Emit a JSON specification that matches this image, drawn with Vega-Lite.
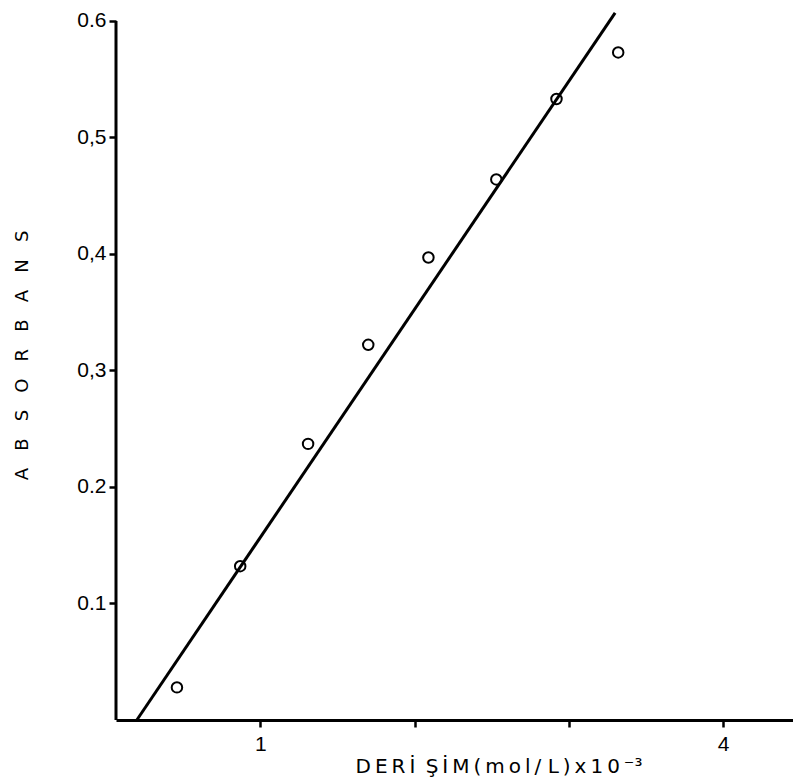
{
  "$schema": "https://vega.github.io/schema/vega-lite/v6.json",
  "width": 677,
  "height": 710,
  "autosize": {"type": "none"},
  "padding": {"left": 116, "top": 10, "right": 0, "bottom": 63},
  "background": "white",
  "config": {
    "view": {"stroke": null},
    "font": "Liberation Sans"
  },
  "datasets": {
    "points": [
      {"c": 0.46, "a": 0.028},
      {"c": 0.87, "a": 0.132},
      {"c": 1.31, "a": 0.237},
      {"c": 1.70, "a": 0.322},
      {"c": 2.09, "a": 0.397},
      {"c": 2.53, "a": 0.464},
      {"c": 2.92, "a": 0.533},
      {"c": 3.32, "a": 0.573}
    ],
    "fit": [
      {"c": 0.20, "a": 0.0},
      {"c": 3.30, "a": 0.607}
    ],
    "yaxis": [
      {"c": 0.065, "a0": 0, "a1": 0.6}
    ]
  },
  "layer": [
    {
      "data": {"name": "yaxis"},
      "mark": {"type": "rule", "color": "black", "strokeWidth": 3},
      "encoding": {
        "x": {"field": "c", "type": "quantitative", "scale": {"domain": [0.065, 4.453], "nice": false, "zero": false},
          "axis": {
            "values": [1, 2, 3, 4],
            "labelExpr": "datum.value == 1 || datum.value == 4 ? format(datum.value, 'd') : ''",
            "grid": false,
            "domainColor": "black", "domainWidth": 3,
            "tickColor": "black", "tickWidth": 2.5, "tickSize": 7,
            "labelColor": "black", "labelFontSize": 21, "labelPadding": 6,
            "labelFont": "Liberation Sans",
            "title": "D\u2009E\u2009R\u2009İ\u00a0\u2009Ş\u2009İ\u2009M\u2009(\u2009m\u2009o\u2009l\u2009/\u00a0L\u2009)\u2009x\u20091\u20090\u2009⁻³",
            "titleFont": "DejaVu Sans",
            "titleFontSize": 20, "titleFontWeight": "normal", "titleColor": "black",
            "titleAnchor": "start", "titleAlign": "left", "titleX": 239, "titleY": 52, "titleBaseline": "alphabetic"
          }
        },
        "y": {"field": "a0", "type": "quantitative", "scale": {"domain": [0, 0.6094], "nice": false, "zero": false},
          "axis": {
            "values": [0.1, 0.2, 0.3, 0.4, 0.5, 0.6],
            "labelExpr": "datum.value > 0.25 && datum.value < 0.55 ? replace(format(datum.value, '.1f'), '.', ',') : format(datum.value, '.1f')",
            "grid": false,
            "domain": false,
            "tickColor": "black", "tickWidth": 2.5, "tickSize": 7,
            "labelColor": "black", "labelFontSize": 21, "labelPadding": 3,
            "labelFont": "Liberation Sans",
            "title": "A\u00a0\u00a0\u00a0B\u00a0\u00a0\u00a0S\u00a0\u00a0\u00a0O\u00a0\u00a0\u00a0R\u00a0\u00a0\u00a0B\u00a0\u00a0\u00a0A\u00a0\u00a0\u00a0N\u00a0\u00a0\u00a0S",
            "titleFont": "DejaVu Sans",
            "titleFontSize": 18, "titleFontWeight": "normal", "titleColor": "black",
            "titleAngle": -90, "titleAlign": "center", "titleBaseline": "middle",
            "titleX": -94, "titleY": 345
          }
        },
        "y2": {"field": "a1"}
      }
    },
    {
      "data": {"name": "fit"},
      "mark": {"type": "line", "color": "black", "strokeWidth": 3},
      "encoding": {
        "x": {"field": "c", "type": "quantitative"},
        "y": {"field": "a", "type": "quantitative"}
      }
    },
    {
      "data": {"name": "points"},
      "mark": {"type": "point", "shape": "circle", "filled": false, "color": "black", "strokeWidth": 2, "size": 110, "opacity": 1},
      "encoding": {
        "x": {"field": "c", "type": "quantitative"},
        "y": {"field": "a", "type": "quantitative"}
      }
    }
  ]
}
